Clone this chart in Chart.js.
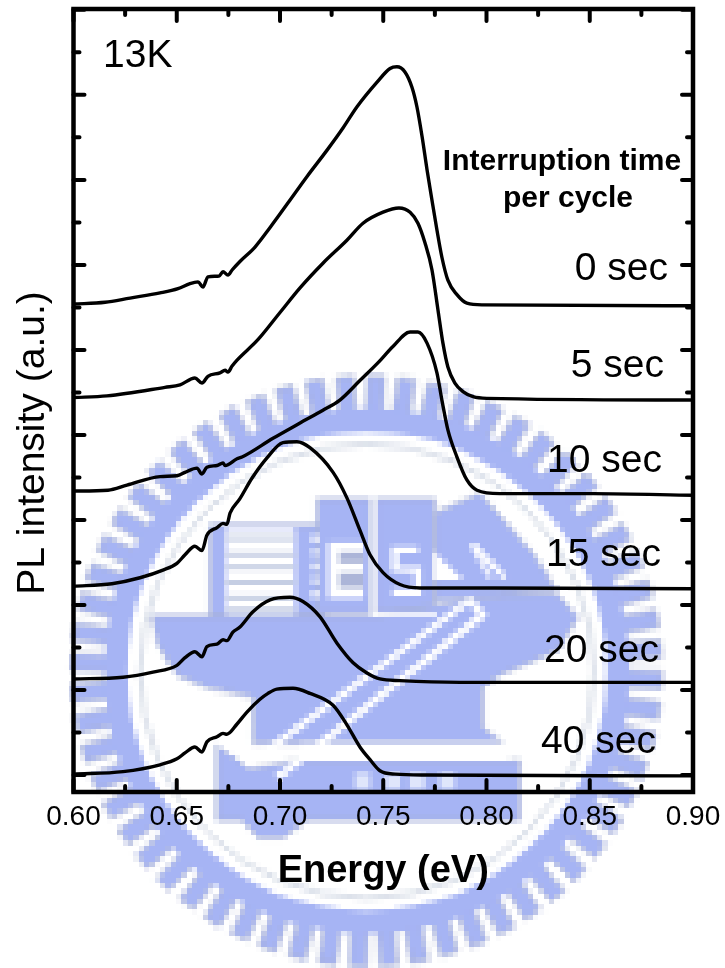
<!DOCTYPE html>
<html>
<head>
<meta charset="utf-8">
<title>PL intensity vs energy</title>
<script src="https://cdn.jsdelivr.net/npm/chart.js@4"></script>
<style>
  html, body { margin: 0; padding: 0; background: #fff; }
  canvas { display: block; }
</style>
</head>
<body>
<canvas id="chart" width="725" height="968"></canvas>
<script>
//Curve values, one energy/intensity pair per sample
const seriesNames = ["0 sec", "5 sec", "10 sec", "15 sec", "20 sec", "40 sec"];

const energy0 = [.600,.6153,.6274,.6419,.6506,.6564,.6603,.6627,.6651,.6705,.6724,.6748,.6768,.6806,.6879,.6952,.7039,.7131,.7228,.7305,.7373,.7470,.7533,.7566,.7605,.7639,.7663,.7688,.7712,.7736,.7760,.7784,.7813,.7857,.7905,.7983,.900];
const level0 = [5.54,5.56,5.61,5.67,5.72,5.78,5.80,5.74,5.86,5.87,5.92,5.88,5.94,6.04,6.21,6.44,6.73,7.04,7.35,7.61,7.86,8.15,8.31,8.33,8.27,8.09,7.86,7.51,7.12,6.76,6.41,6.09,5.82,5.65,5.55,5.53,5.52];

const energy1 = [.600,.6162,.6443,.6516,.6588,.6622,.6651,.6709,.6734,.6748,.6768,.6792,.6893,.7000,.7097,.7208,.7324,.7402,.7499,.7576,.7630,.7668,.7702,.7736,.7765,.7789,.7813,.7847,.7886,.7935,.8002,.900];
const level1 = [4.44,4.46,4.56,4.59,4.67,4.61,4.69,4.73,4.76,4.74,4.81,4.88,5.12,5.44,5.73,6.02,6.29,6.49,6.62,6.67,6.62,6.49,6.26,5.94,5.47,5.08,4.80,4.61,4.51,4.45,4.43,4.41];

const energy2 = [.600,.6167,.6259,.6419,.6501,.6540,.6598,.6622,.6646,.6695,.6724,.6734,.6792,.6816,.6966,.7097,.7208,.7290,.7387,.7475,.7547,.7630,.7668,.7712,.7760,.7784,.7813,.7857,.7905,.7954,.8065,.8516,.900];
const level2 = [3.34,3.35,3.41,3.51,3.52,3.56,3.61,3.54,3.62,3.64,3.67,3.64,3.72,3.74,3.96,4.14,4.29,4.41,4.64,4.85,5.04,5.21,5.21,5.08,4.73,4.41,4.06,3.74,3.47,3.35,3.31,3.31,3.29];

const energy3 = [.600,.6186,.6322,.6433,.6501,.6540,.6588,.6622,.6646,.6695,.6724,.6743,.6758,.6806,.6864,.6937,.7014,.7082,.7145,.7257,.7324,.7387,.7436,.7499,.7581,.7678,.8031,.900];
const level3 = [2.22,2.25,2.32,2.41,2.49,2.59,2.69,2.64,2.82,2.91,2.96,2.95,3.08,3.25,3.49,3.73,3.91,3.92,3.85,3.56,3.26,2.88,2.59,2.38,2.24,2.20,2.20,2.19];

const energy4 = [.600,.6240,.6385,.6501,.6540,.6588,.6622,.6646,.6695,.6724,.6743,.6772,.6806,.6869,.6952,.7048,.7111,.7194,.7276,.7354,.7421,.7484,.7581,.7872,.900];
const level4 = [1.13,1.15,1.21,1.29,1.38,1.45,1.39,1.51,1.54,1.59,1.58,1.68,1.74,1.92,2.06,2.09,2.04,1.86,1.55,1.32,1.20,1.13,1.11,1.09,1.09];

const energy5 = [.600,.6240,.6419,.6501,.6540,.6588,.6622,.6646,.6695,.6724,.6743,.6792,.6840,.6903,.6942,.6985,.7063,.7145,.7257,.7324,.7387,.7436,.7484,.7557,.7712,.900];
const level5 = [.01,.04,.12,.19,.26,.33,.27,.39,.45,.49,.48,.60,.74,.89,.96,1.01,1.02,.96,.82,.59,.33,.18,.05,.01,0,-.01];

const energies = [energy0, energy1, energy2, energy3, energy4, energy5];
const levels = [level0, level1, level2, level3, level4, level5];

//Tick positions
const xMajorTicks = [0.60, 0.65, 0.70, 0.75, 0.80, 0.85, 0.90];
const xMinorTicks = [0.625, 0.675, 0.725, 0.775, 0.825, 0.875];
const yMajorTicks = [0, 1, 2, 3, 4, 5, 6, 7, 8, 9];
const yMinorTicks = [0.5, 1.5, 2.5, 3.5, 4.5, 5.5, 6.5, 7.5, 8.5];

const FONT = '"Liberation Sans", Arial, sans-serif';

//The pale logo behind the plot, painted small and blown up so it stays blocky
function paintLogo(ctx) {
  const k = 5.33;
  const off = document.createElement("canvas");
  off.width = Math.round(725 / k);
  off.height = Math.round(968 / k);
  const g = off.getContext("2d");
  g.scale(off.width / 725, off.height / 968);
  const blue = "#a6b4f4";
  const grey = "#a8b0cc";
  const poly = (pts, fill) => {
    g.beginPath();
    pts.forEach((p, i) => (i ? g.lineTo(p[0], p[1]) : g.moveTo(p[0], p[1])));
    g.closePath();
    g.fillStyle = fill || blue;
    g.fill();
    if (!fill) {
      g.strokeStyle = grey;
      g.lineWidth = 2;
      g.stroke();
    }
  };
  const rect = (x, y, w, h, fill) => poly([[x, y], [x + w, y], [x + w, y + h], [x, y + h]], fill);
  const stroke = (pts, w, col) => {
    g.beginPath();
    pts.forEach((p, i) => (i ? g.lineTo(p[0], p[1]) : g.moveTo(p[0], p[1])));
    g.strokeStyle = col || "#fff";
    g.lineWidth = w;
    g.stroke();
  };

  //Toothed ring
  const cx = 367, cy = 671;
  for (let i = 0; i < 60; i++) {
    g.save();
    g.translate(cx, cy);
    g.rotate((i * Math.PI * 2) / 60 + 0.03);
    rect(-8.5, -295, 17, 42);
    g.restore();
  }
  g.beginPath();
  g.arc(cx, cy, 251, 0, Math.PI * 2);
  g.strokeStyle = blue;
  g.lineWidth = 23;
  g.stroke();
  g.beginPath();
  g.arc(cx, cy, 227, 0, Math.PI * 2);
  g.strokeStyle = "#c3ccdc";
  g.lineWidth = 3;
  g.stroke();

  //Building blocks
  rect(210, 525, 115, 92);
  rect(317, 499, 53, 114);
  rect(376, 499, 59, 113);
  poly([[435, 513], [480, 493], [533, 553], [557, 590], [480, 600], [435, 600]]);

  //Wide banner below them
  poly([[152, 616], [380, 616], [480, 597], [556, 593], [578, 617], [558, 650], [500, 675], [483, 687], [483, 727], [503, 743], [253, 743], [253, 697], [207, 688], [177, 675], [157, 643]]);
  //Base plate
  poly([[217, 745], [250, 768], [300, 760], [520, 760], [520, 820], [307, 820], [283, 838], [258, 838], [242, 820], [217, 820]]);

  //Striped windows
  rect(226, 528, 69, 86, "#fff");
  [535, 552, 565, 580, 595, 608].forEach((y) => rect(226, y, 69, 5, "#c2cbe2"));
  for (let y = 535; y < 600; y += 14) rect(312, y, 6, 7, "#fff");

  //Block letters
  rect(328, 542, 35, 56, "#fff");
  rect(339, 552, 24, 11, "#acb5d8");
  rect(339, 573, 24, 15, "#acb5d8");
  stroke([[418, 550], [395, 550], [395, 568], [418, 570], [418, 592], [393, 592]], 7);
  rect(372, 498, 4, 118, "#fff");
  rect(372, 612, 65, 4, "#fff");
  poly([[433, 550], [463, 580], [433, 580]], "#fff");
  stroke([[473, 545], [505, 578]], 6);
  stroke([[473, 545], [490, 578]], 5);

  //White outline of the diagonal rod
  stroke([[218, 740], [250, 763], [470, 600], [483, 615], [277, 778]], 7);
  rect(300, 743, 210, 17, "#fff");
  [355, 385, 410, 440].forEach((x) => rect(x, 773, 15, 17, "#dfe6fb"));

  ctx.save();
  ctx.imageSmoothingEnabled = false;
  ctx.drawImage(off, 0, 0, 725, 968);
  ctx.restore();
}

//Logo goes first, inward ticks, frame and the text labels go on top of the curves
const decorations = {
  id: "decorations",
  beforeDraw(chart) {
    paintLogo(chart.ctx);
  },
  afterDatasetsDraw(chart) {
    const { ctx, chartArea: a, scales } = chart;
    ctx.save();
    ctx.strokeStyle = "#000";
    ctx.lineCap = "round";
    ctx.lineWidth = 4;
    const xTick = (v, len) => {
      const px = scales.x.getPixelForValue(v);
      ctx.beginPath();
      ctx.moveTo(px, a.bottom);
      ctx.lineTo(px, a.bottom - len);
      ctx.moveTo(px, a.top);
      ctx.lineTo(px, a.top + len);
      ctx.stroke();
    };
    const yTick = (v, len) => {
      const py = scales.y.getPixelForValue(v);
      ctx.beginPath();
      ctx.moveTo(a.left, py);
      ctx.lineTo(a.left + len, py);
      ctx.moveTo(a.right, py);
      ctx.lineTo(a.right - len, py);
      ctx.stroke();
    };
    xMajorTicks.forEach((v) => xTick(v, 12));
    xMinorTicks.forEach((v) => xTick(v, 6));
    yMajorTicks.forEach((v) => yTick(v, 11));
    yMinorTicks.forEach((v) => yTick(v, 6));
    ctx.lineCap = "butt";
    ctx.lineWidth = 4.5;
    ctx.strokeRect(a.left, a.top, a.right - a.left, a.bottom - a.top);

    ctx.fillStyle = "#000";
    ctx.textBaseline = "alphabetic";
    ctx.textAlign = "left";
    ctx.font = "39px " + FONT;
    ctx.fillText("13K", 103, 67);

    ctx.textAlign = "right";
    const labelRight = [668, 664, 662, 661, 659, 656];
    const labelBase = [280, 377, 472, 566, 662, 753];
    seriesNames.forEach((name, i) => ctx.fillText(name, labelRight[i], labelBase[i]));

    ctx.textAlign = "center";
    ctx.font = "bold 30px " + FONT;
    ctx.fillText("Interruption time", 562, 170);
    ctx.fillText("per cycle", 568, 207);

    ctx.translate(44, 443);
    ctx.rotate(-Math.PI / 2);
    ctx.font = "39px " + FONT;
    ctx.fillText("PL intensity (a.u.)", 0, 0);
    ctx.restore();
  },
};

const datasets = seriesNames.map((name, i) => ({
  label: name,
  data: energies[i].map((e, j) => ({ x: e, y: levels[i][j] })),
  borderColor: "#000",
  borderWidth: 3.4,
  borderJoinStyle: "round",
  pointRadius: 0,
  cubicInterpolationMode: "monotone",
  fill: false,
}));

new Chart(document.getElementById("chart").getContext("2d"), {
  type: "line",
  data: { datasets },
  plugins: [decorations],
  options: {
    responsive: false,
    animation: false,
    layout: { padding: { top: 9, right: 32, left: 0, bottom: 0 } },
    plugins: { legend: { display: false }, tooltip: { enabled: false } },
    scales: {
      x: {
        type: "linear",
        min: 0.6,
        max: 0.9,
        afterBuildTicks: (scale) => {
          scale.ticks = xMajorTicks.map((v) => ({ value: v }));
        },
        afterFit: (scale) => {
          scale.height = 176;
          scale.paddingLeft = 0;
          scale.paddingRight = 0;
        },
        grid: { display: false, drawTicks: false },
        border: { display: false },
        ticks: {
          autoSkip: false,
          maxRotation: 0,
          padding: 8,
          color: "#000",
          font: { family: FONT, size: 28 },
          callback: (v) => Number(v).toFixed(2),
        },
        title: {
          display: true,
          text: "Energy (eV)",
          color: "#000",
          font: { family: FONT, size: 38, weight: "bold" },
          padding: { top: 0, bottom: 74 },
        },
      },
      y: {
        type: "linear",
        min: -0.2,
        max: 9.01,
        afterBuildTicks: (scale) => {
          scale.ticks = yMajorTicks.map((v) => ({ value: v }));
        },
        afterFit: (scale) => {
          scale.width = 73.5;
        },
        grid: { display: false, drawTicks: false },
        border: { display: false },
        ticks: { display: false },
      },
    },
  },
});
</script>
</body>
</html>
